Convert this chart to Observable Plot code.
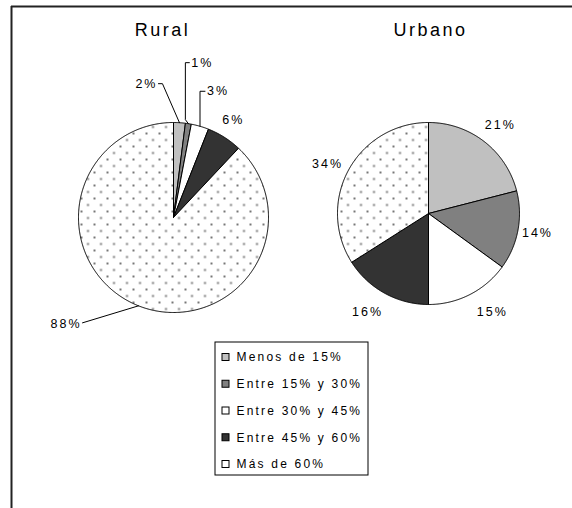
<!DOCTYPE html>
<html>
<head>
<meta charset="utf-8">
<script src="https://cdn.jsdelivr.net/npm/d3@7"></script>
<script src="https://cdn.jsdelivr.net/npm/@observablehq/plot@0.6"></script>
<style>
  html, body { margin: 0; padding: 0; background: #fff; }
  #chart svg { display: block; }
</style>
</head>
<body>
<div id="chart"></div>
<script>
// ---- data ----
const categories = ["Menos de 15%", "Entre 15% y 30%", "Entre 30% y 45%", "Entre 45% y 60%", "Más de 60%"];
const ruralValues = [2, 1, 3, 6, 88];
const urbanoValues = [21, 14, 15, 16, 34];
const pieNames = ["Rural", "Urbano"];
const sliceColors = ["#c0c0c0", "#808080", "#ffffff", "#333333", "url(#dots)"];

// ---- layout ----
const W = 572, H = 508;
const pieLayout = [
  {cx: 173, cy: 217, r: 95, titleX: 162},
  {cx: 428, cy: 213, r: 91, titleX: 430}
];
const pieValues = [ruralValues, urbanoValues];
// Rural labels: leader polylines, offsets from the slice's edge point
const ruralLabelLayout = [
  {leader: [[0, 0], [-17, -39], [-21, -39]], at: [-22, -39], anchor: "end"},
  {leader: [[0, 0], [-3, -4], [-3, -61], [1, -61]], at: [3, -61], anchor: "start"},
  {leader: [[0, 0], [0, -35], [5, -35]], at: [7, -35], anchor: "start"},
  {leader: null, at: [9, -17], anchor: "middle"},
  {leader: [[0, 0], [-56, 17]], at: [-57, 18], anchor: "end"}
];
// Urbano labels: outside at r + gap, with small nudges
const urbanoLabelGap = 23;
const urbanoNudges = [[2, 2], [-3, -2], [12, -3], [-6, -1], [-1, 5]];

// ---- build geometry from values ----
const polyPts = [];
const leaderPts = [];
const labels = [];
const titles = [];
pieNames.forEach((name, p) => {
  const L = pieLayout[p];
  titles.push({name, x: L.titleX, y: 30});
  const arcs = d3.pie().sort(null).value(d => d)(pieValues[p]);
  arcs.forEach((a, i) => {
    const key = name + "-" + i;
    const cat = categories[i];
    polyPts.push({key, cat, x: L.cx, y: L.cy});
    const n = Math.max(2, Math.ceil((a.endAngle - a.startAngle) / (Math.PI / 360)));
    for (let k = 0; k <= n; k++) {
      const ang = a.startAngle + (a.endAngle - a.startAngle) * k / n;
      polyPts.push({key, cat, x: L.cx + L.r * Math.sin(ang), y: L.cy - L.r * Math.cos(ang)});
    }
    polyPts.push({key, cat, x: L.cx, y: L.cy});
    const mid = (a.startAngle + a.endAngle) / 2;
    const text = pieValues[p][i] + "%";
    if (p === 0) {
      const ex = L.cx + L.r * Math.sin(mid), ey = L.cy - L.r * Math.cos(mid);
      const lay = ruralLabelLayout[i];
      if (lay.leader) lay.leader.forEach(([dx, dy]) => leaderPts.push({key, x: ex + dx, y: ey + dy}));
      labels.push({text, x: ex + lay.at[0], y: ey + lay.at[1], anchor: lay.anchor});
    } else {
      const rr = L.r + urbanoLabelGap;
      labels.push({text, x: L.cx + rr * Math.sin(mid) + urbanoNudges[i][0], y: L.cy - rr * Math.cos(mid) + urbanoNudges[i][1], anchor: "middle"});
    }
  });
});

const legendItems = categories.map((c, i) => ({c, y: 357 + i * 26.75}));
const labelsBy = a => labels.filter(d => d.anchor === a);

const chart = Plot.plot({
  width: W,
  height: H,
  margin: 0,
  x: {domain: [0, W], range: [0, W], axis: null},
  y: {domain: [0, H], range: [0, H], axis: null},
  color: {type: "ordinal", domain: categories, range: sliceColors},
  style: {fontFamily: "'Liberation Sans', Arial, sans-serif", background: "white", color: "black"},
  marks: [
    // frame (top & left edges)
    Plot.ruleY([6], {x1: () => 11, x2: () => W, stroke: "#222", strokeWidth: 2}),
    Plot.ruleX([11], {y1: () => 6, y2: () => H, stroke: "#222", strokeWidth: 2}),
    // slices
    Plot.line(polyPts, {x: "x", y: "y", z: "key", fill: "cat", stroke: "black", strokeWidth: 1, strokeLinejoin: "round", curve: "linear"}),
    // leader lines
    Plot.line(leaderPts, {x: "x", y: "y", z: "key", stroke: "black", strokeWidth: 1}),
    // titles
    Plot.text(titles, {x: "x", y: "y", text: "name", fontSize: 18, fill: "black"}),
    // slice labels
    Plot.text(labelsBy("start"), {x: "x", y: "y", text: "text", textAnchor: "start", fontSize: 12.5, fill: "black"}),
    Plot.text(labelsBy("end"), {x: "x", y: "y", text: "text", textAnchor: "end", fontSize: 12.5, fill: "black"}),
    Plot.text(labelsBy("middle"), {x: "x", y: "y", text: "text", textAnchor: "middle", fontSize: 12.5, fill: "black"}),
    // legend
    Plot.rect([0], {x1: () => 215, x2: () => 368, y1: () => 342, y2: () => 475, fill: "white", stroke: "black", strokeWidth: 1}),
    Plot.rect(legendItems, {x1: () => 222, x2: () => 229, y1: d => d.y - 3.5, y2: d => d.y + 3.5, fill: "c", stroke: "black", strokeWidth: 1}),
    Plot.text(legendItems, {x: () => 236, y: "y", text: "c", textAnchor: "start", fontSize: 12, fill: "black"})
  ]
});

// pattern for "Más de 60%"
const svgSel = d3.select(chart.tagName.toLowerCase() === "svg" ? chart : chart.querySelector("svg"));
const defs = svgSel.insert("defs", ":first-child");
const pat = defs.append("pattern").attr("id", "dots").attr("patternUnits", "userSpaceOnUse")
  .attr("width", 13).attr("height", 13);
pat.append("rect").attr("width", 13).attr("height", 13).attr("fill", "white");
pat.append("rect").attr("x", 2).attr("y", 2).attr("width", 2).attr("height", 2).attr("fill", "#777");
pat.append("rect").attr("x", 8.5).attr("y", 8.5).attr("width", 2).attr("height", 2).attr("fill", "#777");

// letter spacing per text mark (titles, labels x3, legend)
const spacings = ["2.5px", "2px", "2px", "2px", "2.2px"];
svgSel.selectAll('g[aria-label="text"]').each(function(d, i) {
  d3.select(this).style("letter-spacing", spacings[i] || "2px");
});

document.getElementById("chart").appendChild(chart);
</script>
</body>
</html>
